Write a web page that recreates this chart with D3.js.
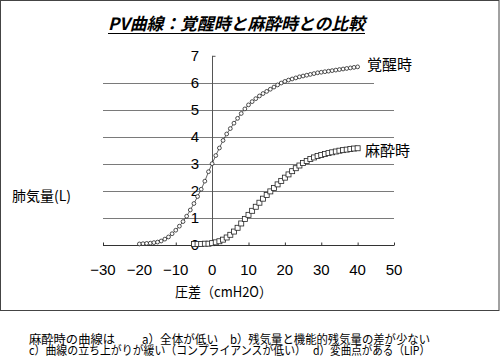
<!DOCTYPE html>
<html><head><meta charset="utf-8">
<script src="https://cdn.jsdelivr.net/npm/d3@7"></script>
<style>
html,body{margin:0;padding:0;background:#fff;}
svg{display:block;}
text{font-family:"Noto Sans CJK JP","DejaVu Sans",sans-serif;fill:#000;}
.num{font-family:"Liberation Sans Narrow","Liberation Sans",Arial,sans-serif;}
</style>
</head><body>
<script>
const titleText = "PV曲線：覚醒時と麻酔時との比較";
const xTicks = [-30, -20, -10, 0, 10, 20, 30, 40, 50];
const yTicks = [0, 1, 2, 3, 4, 5, 6, 7];
const xTitle = "圧差（cmH2O）";
const yTitle = "肺気量(L)";
const seriesNames = ["覚醒時", "麻酔時"];

const awakeX = d3.range(-20, 41);
const awakeY = [0.02,0.03,0.04,0.05,0.07,0.09,0.13,0.2,0.28,0.4,0.53,0.68,0.85,1.05,1.28,1.52,1.78,2.05,2.35,2.7,
  3.0,3.3,3.58,3.86,4.1,4.3,4.5,4.68,4.86,5.03,5.18,5.3,5.41,5.51,5.6,5.68,5.76,5.84,5.92,5.99,
  6.05,6.1,6.14,6.18,6.22,6.25,6.28,6.31,6.34,6.37,6.39,6.41,6.43,6.45,6.47,6.49,6.51,6.53,6.55,6.57,6.59];
const anesX = d3.range(-5, 41);
const anesY = [0.02,0.02,0.02,0.03,0.03,0.05,0.08,0.12,0.18,0.26,0.36,0.48,0.62,0.78,0.95,1.1,1.25,1.4,1.55,1.7,
  1.84,1.97,2.1,2.23,2.36,2.48,2.6,2.72,2.83,2.93,3.02,3.1,3.17,3.23,3.28,3.32,3.36,3.39,3.42,3.45,
  3.48,3.5,3.52,3.54,3.56,3.57];

const footer1 = ["麻酔時の曲線は", "a）全体が低い", "b）残気量と機能的残気量の差が少ない"];
const footer2 = ["c）曲線の立ち上がりが緩い（コンプライアンスが低い）", "d）変曲点がある（LIP）"];

const W = 500, H = 357;
const svg = d3.select("body").append("svg").attr("width", W).attr("height", H);

// frame
svg.append("rect").attr("x", 0.5).attr("y", 0.5).attr("width", 498.5).attr("height", 310)
  .attr("fill", "none").attr("stroke", "#444").attr("stroke-width", 1);

const x = d3.scaleLinear().domain([-30, 50]).range([103, 394]);
const y = d3.scaleLinear().domain([0, 7]).range([244.5, 55.8]);

// gridlines
svg.append("g").selectAll("line").data(yTicks.filter(d => d > 0 && d < 7)).join("line")
  .attr("x1", x(-30)).attr("x2", d => d === 6 ? 374 : x(50))
  .attr("y1", d => Math.round(y(d)) + 0.5).attr("y2", d => Math.round(y(d)) + 0.5)
  .attr("stroke", "#7a7a7a").attr("stroke-width", 1.2);

// x axis
const xAxis = d3.axisTop(x).tickValues(xTicks).tickSize(3).tickFormat("");
const gx = svg.append("g").attr("transform", `translate(0,${Math.round(y(0)) + 0.5})`).call(xAxis);
gx.select(".domain").attr("stroke", "#333").attr("d", `M${x(-30)},0H${x(50)}`);
gx.selectAll(".tick line").attr("stroke", "#333");

// y axis at x=0
const yAxis = d3.axisRight(y).tickValues([7]).tickSize(3).tickFormat("");
const gy = svg.append("g").attr("transform", `translate(${Math.round(x(0)) + 0.5},0)`).call(yAxis);
gy.select(".domain").attr("stroke", "#555").attr("d", `M0,${y(7)}V${y(0)}`);
gy.selectAll(".tick line").attr("stroke", "#555");

// x tick labels
svg.append("g").selectAll("text").data(xTicks).join("text")
  .attr("class", "num")
  .attr("x", d => x(d)).attr("y", 274.5).attr("text-anchor", "middle")
  .attr("font-size", 15)
  .text(d => d < 0 ? "−" + Math.abs(d) : d);

// y tick labels
svg.append("g").selectAll("text").data(yTicks).join("text")
  .attr("class", "num")
  .attr("x", 199).attr("y", d => y(d) + 5.5).attr("text-anchor", "end")
  .attr("font-size", 15)
  .text(d => d);

// lines
const line = d3.line().x(d => x(d[0])).y(d => y(d[1]));
const awake = awakeX.map((v, i) => [v, awakeY[i]]);
const anes = anesX.map((v, i) => [v, anesY[i]]);

svg.append("path").datum(awake).attr("d", line).attr("fill", "none").attr("stroke", "#222").attr("stroke-width", 0.7);
svg.append("g").selectAll("circle").data(awake).join("circle")
  .attr("cx", d => x(d[0])).attr("cy", d => y(d[1])).attr("r", 1.9)
  .attr("fill", "#fff").attr("stroke", "#222").attr("stroke-width", 0.8);

svg.append("path").datum(anes).attr("d", line).attr("fill", "none").attr("stroke", "#222").attr("stroke-width", 0.7);
svg.append("g").selectAll("rect").data(anes).join("rect")
  .attr("x", d => x(d[0]) - 2.5).attr("y", d => y(d[1]) - 2.5).attr("width", 5).attr("height", 5)
  .attr("fill", "#fff").attr("stroke", "#222").attr("stroke-width", 0.8);

// series labels
svg.append("text").attr("x", 367).attr("y", 69.5).attr("font-size", 15).text(seriesNames[0]);
svg.append("text").attr("x", 365).attr("y", 155.5).attr("font-size", 15).text(seriesNames[1]);

// title
svg.append("text").attr("x", 108).attr("y", 30).attr("font-size", 17)
  .attr("font-style", "italic").attr("font-weight", "bold")
  .attr("textLength", 257).attr("lengthAdjust", "spacingAndGlyphs")
  .attr("transform", "skewX(0)")
  .text(titleText);
svg.append("line").attr("x1", 108).attr("x2", 365).attr("y1", 33.5).attr("y2", 33.5)
  .attr("stroke", "#000").attr("stroke-width", 1.2);

// axis titles
svg.append("text").attr("x", 12).attr("y", 201).attr("font-size", 14).text(yTitle);
svg.append("text").attr("x", 175).attr("y", 296.5).attr("font-size", 14)
  .attr("textLength", 97).attr("lengthAdjust", "spacingAndGlyphs").text(xTitle);

// footer
const f1x = [29, 142, 230], f1w = [86, 76, 200];
svg.append("g").selectAll("text").data(footer1).join("text")
  .attr("x", (d, i) => f1x[i]).attr("y", 343.5).attr("font-size", 12)
  .attr("textLength", (d, i) => f1w[i]).attr("lengthAdjust", "spacingAndGlyphs").text(d => d);
const f2x = [29, 313], f2w = [277, 117];
svg.append("g").selectAll("text").data(footer2).join("text")
  .attr("x", (d, i) => f2x[i]).attr("y", 354.5).attr("font-size", 12)
  .attr("textLength", (d, i) => f2w[i]).attr("lengthAdjust", "spacingAndGlyphs").text(d => d);
</script>
</body></html>
